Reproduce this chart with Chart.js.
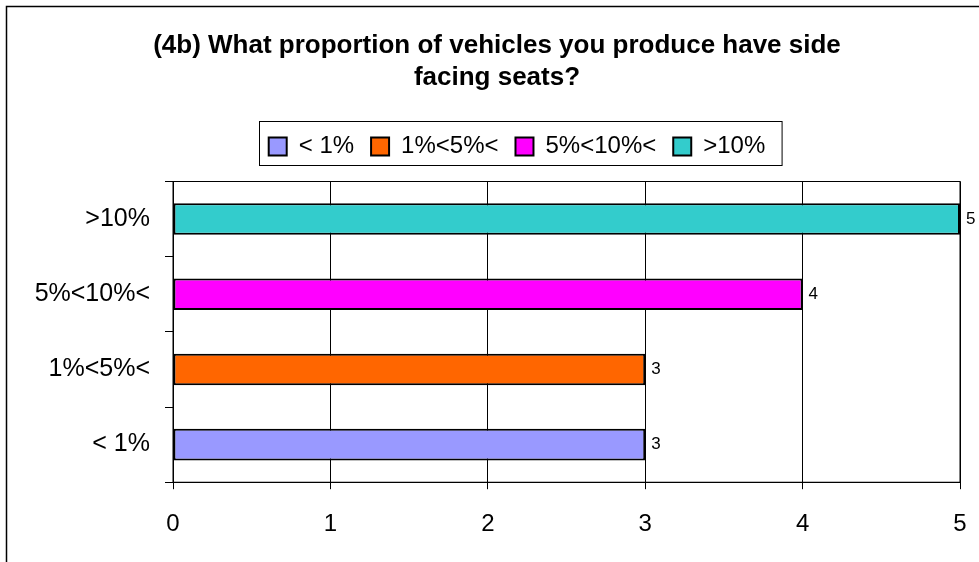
<!DOCTYPE html>
<html>
<head>
<meta charset="utf-8">
<script src="https://cdn.jsdelivr.net/npm/chart.js@4/dist/chart.umd.min.js"></script>
<style>
  html, body { margin: 0; padding: 0; background: #fff; }
  #wrap { width: 979px; height: 562px; position: relative; }
</style>
</head>
<body>
<div id="wrap"><canvas id="grafica"></canvas></div>
<script>
// categories top to bottom, as they appear on the y axis
const categories = ['>10%', '5%<10%<', '1%<5%<', '< 1%'];
// legend order
const seriesNames = ['< 1%', '1%<5%<', '5%<10%<', '>10%'];
const seriesValues = [3, 3, 4, 5];
const seriesColors = ['#9999ff', '#ff6600', '#ff00ff', '#33cccc'];
const xTicks = [0, 1, 2, 3, 4, 5];

Chart.defaults.font.family = '"Liberation Sans", Arial, sans-serif';
Chart.defaults.color = '#000';

const PAD_L = 34, PAD_R = 19;

const marco = {
  id: 'marco',
  afterLayout(chart) {
    // put the legend where the original sits
    const lg = chart.legend;
    const h = lg.bottom - lg.top;
    lg.left += 20; lg.right += 20;
    lg.top = 117.5; lg.bottom = 117.5 + h;
  },
  afterDraw(chart) {
    const c = chart.ctx;
    const a = chart.chartArea;
    c.save();
    c.strokeStyle = '#000';
    c.lineWidth = 1.5;
    // outer frame (runs off the right and bottom edges)
    c.strokeRect(6.5, 6.5, 1100, 700);
    // plot area frame
    c.lineWidth = 1;
    c.strokeRect(a.left, Math.round(a.top) + 0.5, a.right - a.left, a.bottom - a.top);
    // legend box
    const hb = chart.legend.legendHitBoxes;
    if (hb && hb.length) {
      const l = hb[0].left - 10;
      const r = hb[hb.length - 1].left + hb[hb.length - 1].width + 16;
      const mid = hb[0].top + hb[0].height / 2 - 4;
      c.strokeRect(Math.round(l) + 0.5, Math.round(mid - 22) + 0.5, r - l, 44);
    }
    c.restore();
  },
  afterDatasetsDraw(chart) {
    const c = chart.ctx;
    c.save();
    c.font = '17px "Liberation Sans", Arial, sans-serif';
    c.fillStyle = '#000';
    c.textBaseline = 'middle';
    chart.data.datasets.forEach((ds, i) => {
      chart.getDatasetMeta(i).data.forEach((bar, j) => {
        if (ds.data[j] == null) return;
        c.fillText(String(ds.data[j]), bar.x + 6, bar.y);
      });
    });
    c.restore();
  }
};

new Chart(document.getElementById('grafica'), {
  type: 'bar',
  data: {
    labels: categories,
    datasets: seriesNames.map((name, i) => ({
      label: name,
      data: categories.map(c => c === name ? seriesValues[i] : null),
      backgroundColor: seriesColors[i],
      borderColor: '#000',
      borderWidth: 2,
      borderSkipped: false,
      barPercentage: 0.42,
      categoryPercentage: 1
    }))
  },
  options: {
    indexAxis: 'y',
    responsive: true,
    maintainAspectRatio: false,
    animation: false,
    layout: { padding: { left: PAD_L, right: PAD_R, top: 0, bottom: 2 } },
    scales: {
      x: {
        stacked: true,
        min: 0,
        max: 5,
        afterBuildTicks(scale) { scale.ticks = xTicks.map(v => ({ value: v })); },
        afterFit(scale) { scale.paddingLeft = 0; scale.paddingRight = 0; },
        grid: { color: '#000', tickLength: 7, lineWidth: 1 },
        border: { color: '#000', width: 1 },
        ticks: { font: { size: 24 }, padding: 21, color: '#000' }
      },
      y: {
        stacked: true,
        afterFit(scale) { scale.width = 173 - PAD_L; },
        grid: { offset: true, drawOnChartArea: false, color: '#000', tickLength: 8 },
        border: { color: '#000', width: 1 },
        ticks: { font: { size: 25 }, padding: 15, color: '#000' }
      }
    },
    plugins: {
      title: {
        display: true,
        text: ['(4b) What proportion of vehicles you produce have side', 'facing seats?'],
        font: { size: 26, weight: 'bold', lineHeight: 1.23 },
        color: '#000',
        padding: { top: 30, bottom: 36.5 }
      },
      legend: {
        display: true,
        position: 'top',
        labels: {
          font: { size: 24 },
          boxWidth: 18,
          boxHeight: 18,
          padding: 17,
          color: '#000'
        }
      },
      tooltip: { enabled: false }
    }
  },
  plugins: [marco]
});
</script>
</body>
</html>
